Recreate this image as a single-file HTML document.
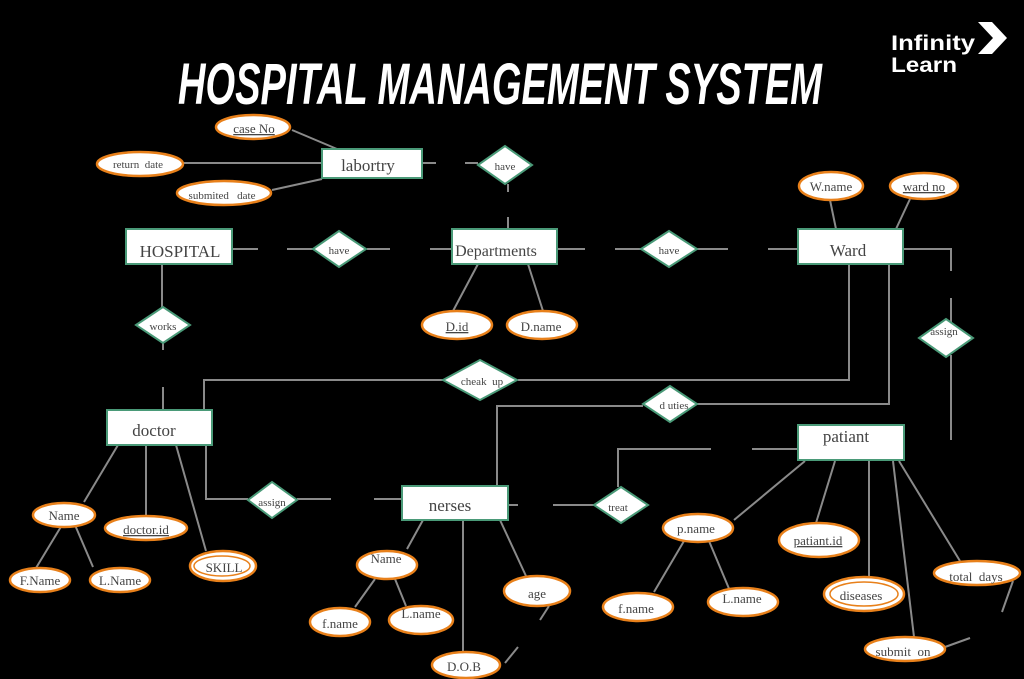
<!DOCTYPE html>
<html><head><meta charset="utf-8"><style>
html,body{margin:0;padding:0;background:#000;}
svg{display:block;}
.l{stroke:#8a8a8a;stroke-width:2;fill:none;}
.r{fill:#fff;stroke:#4a9a78;stroke-width:2;}
.d{fill:#fff;stroke:#4a9a78;stroke-width:2;}
.e{fill:#fff;stroke:#e8801a;stroke-width:2.5;}
text{font-family:"Liberation Serif",serif;fill:#444;text-anchor:middle;}
.a{font-size:13px;}
.b{font-size:17px;}
.s{font-size:11px;}
</style></head><body>
<svg width="1024" height="679" viewBox="0 0 1024 679" xmlns="http://www.w3.org/2000/svg">
<rect width="1024" height="679" fill="#000"/>
<text x="500" y="104" style="font-family:'Liberation Sans',sans-serif;font-weight:bold;font-style:italic;font-size:58px;fill:#fff" textLength="644" lengthAdjust="spacingAndGlyphs">HOSPITAL MANAGEMENT SYSTEM</text>
<text x="891" y="50" style="font-family:'Liberation Sans',sans-serif;font-weight:bold;font-size:21px;fill:#fff;text-anchor:start" textLength="84" lengthAdjust="spacingAndGlyphs">Infinity</text>
<text x="891" y="72" style="font-family:'Liberation Sans',sans-serif;font-weight:bold;font-size:21px;fill:#fff;text-anchor:start" textLength="66" lengthAdjust="spacingAndGlyphs">Learn</text>
<polygon points="978,22 992,22 1007,38 992,54 978,54 993,38" fill="#fff"/>

<g class="l">
<line x1="292" y1="130" x2="337" y2="149"/>
<line x1="182" y1="163" x2="322" y2="163"/>
<line x1="272" y1="190" x2="322" y2="179"/>
<line x1="422" y1="163" x2="436" y2="163"/><line x1="465" y1="163" x2="478" y2="163"/>
<line x1="508" y1="184" x2="508" y2="192"/><line x1="508" y1="217" x2="508" y2="229"/>
<line x1="232" y1="249" x2="258" y2="249"/><line x1="287" y1="249" x2="313" y2="249"/>
<line x1="367" y1="249" x2="390" y2="249"/><line x1="430" y1="249" x2="452" y2="249"/>
<line x1="557" y1="249" x2="585" y2="249"/><line x1="615" y1="249" x2="641" y2="249"/>
<line x1="697" y1="249" x2="728" y2="249"/><line x1="768" y1="249" x2="798" y2="249"/>
<line x1="830" y1="200" x2="836" y2="229"/><line x1="910" y1="199" x2="896" y2="229"/>
<polyline points="903,249 951,249 951,271"/><line x1="951" y1="298" x2="951" y2="322"/>
<line x1="951" y1="355" x2="951" y2="440"/>
<line x1="478" y1="264" x2="453" y2="311"/><line x1="528" y1="264" x2="543" y2="311"/>
<line x1="162" y1="264" x2="162" y2="307"/><line x1="163" y1="343" x2="163" y2="350"/><line x1="163" y1="387" x2="163" y2="410"/>
<polyline points="204,410 204,380 444,380"/><polyline points="518,380 849,380 849,264"/>
<polyline points="497,486 497,406 643,406"/><polyline points="697,404 889,404 889,264"/>
<line x1="118" y1="445" x2="84" y2="502"/>
<line x1="146" y1="445" x2="146" y2="515"/>
<line x1="176" y1="445" x2="206" y2="551"/>
<line x1="62" y1="525" x2="36" y2="568"/><line x1="75" y1="525" x2="93" y2="567"/>
<polyline points="206,445 206,499 248,499"/>
<line x1="297" y1="499" x2="331" y2="499"/><line x1="374" y1="499" x2="402" y2="499"/>
<line x1="508" y1="505" x2="518" y2="505"/><line x1="553" y1="505" x2="594" y2="505"/>
<polyline points="618,487 618,449 711,449"/><line x1="752" y1="449" x2="798" y2="449"/>
<line x1="805" y1="461" x2="734" y2="520"/>
<line x1="684" y1="541" x2="654" y2="592"/><line x1="709" y1="541" x2="730" y2="591"/>
<line x1="835" y1="461" x2="816" y2="523"/>
<line x1="869" y1="461" x2="869" y2="577"/>
<line x1="893" y1="461" x2="914" y2="637"/><line x1="945" y1="647" x2="970" y2="638"/>
<line x1="899" y1="461" x2="960" y2="561"/><line x1="1013" y1="581" x2="1002" y2="612"/>
<line x1="423" y1="520" x2="407" y2="549"/>
<line x1="375" y1="579" x2="355" y2="607"/><line x1="395" y1="579" x2="406" y2="606"/>
<line x1="463" y1="520" x2="463" y2="652"/>
<line x1="500" y1="520" x2="526" y2="576"/>
<line x1="549" y1="606" x2="540" y2="620"/><line x1="505" y1="663" x2="518" y2="647"/>
</g>

<rect class="r" x="322" y="149" width="100" height="29"/><text class="b" x="368" y="171">labortry</text>
<rect class="r" x="126" y="229" width="106" height="35"/><text class="b" x="180" y="257">HOSPITAL</text>
<rect class="r" x="452" y="229" width="105" height="35"/><text class="b" x="496" y="256" style="font-size:16px">Departments</text>
<rect class="r" x="798" y="229" width="105" height="35"/><text class="b" x="848" y="256">Ward</text>
<rect class="r" x="107" y="410" width="105" height="35"/><text class="b" x="154" y="436">doctor</text>
<rect class="r" x="402" y="486" width="106" height="34"/><text class="b" x="450" y="511">nerses</text>
<rect class="r" x="798" y="425" width="106" height="35"/><text class="b" x="846" y="442">patiant</text>

<polygon class="d" points="478,165 505,146 532,165 505,184"/><text class="s" x="505" y="170">have</text>
<polygon class="d" points="313,249 339,231 366,249 339,267"/><text class="s" x="339" y="254">have</text>
<polygon class="d" points="641,249 669,231 697,249 669,267"/><text class="s" x="669" y="254">have</text>
<polygon class="d" points="136,325 163,307 190,325 163,343"/><text class="s" x="163" y="330">works</text>
<polygon class="d" points="919,338 946,319 973,338 946,357"/><text class="s" x="944" y="335">assign</text>
<polygon class="d" points="443,380 480,360 517,380 480,400"/><text class="s" x="482" y="385">cheak &#160;up</text>
<polygon class="d" points="643,404 670,386 697,404 670,422"/><text class="s" x="674" y="409">d uties</text>
<polygon class="d" points="248,500 272,482 297,500 272,518"/><text class="s" x="272" y="506">assign</text>
<polygon class="d" points="594,505 621,487 648,505 621,523"/><text class="s" x="618" y="511">treat</text>

<ellipse class="e" cx="253" cy="127" rx="37" ry="12"/><text class="a" x="254" y="133" text-decoration="underline">case  No</text>
<ellipse class="e" cx="140" cy="164" rx="43" ry="12"/><text class="s" x="138" y="168">return &#160;date</text>
<ellipse class="e" cx="224" cy="193" rx="47" ry="12"/><text class="s" x="222" y="199">submited &#160; date</text>
<ellipse class="e" cx="831" cy="186" rx="32" ry="14"/><text class="a" x="831" y="191">W.name</text>
<ellipse class="e" cx="924" cy="186" rx="34" ry="13"/><text class="a" x="924" y="191" text-decoration="underline">ward  no</text>
<ellipse class="e" cx="457" cy="325" rx="35" ry="14"/><text class="a" x="457" y="331" text-decoration="underline">D.id</text>
<ellipse class="e" cx="542" cy="325" rx="35" ry="14"/><text class="a" x="541" y="331">D.name</text>
<ellipse class="e" cx="64" cy="515" rx="31" ry="12"/><text class="a" x="64" y="520">Name</text>
<ellipse class="e" cx="146" cy="528" rx="41" ry="12"/><text class="a" x="146" y="534" text-decoration="underline">doctor.id</text>
<ellipse class="e" cx="223" cy="566" rx="33" ry="15"/><ellipse cx="222" cy="566" rx="28" ry="10" fill="none" stroke="#e8801a" stroke-width="1.5"/><text class="a" x="224" y="572">SKILL</text>
<ellipse class="e" cx="40" cy="580" rx="30" ry="12"/><text class="a" x="40" y="585">F.Name</text>
<ellipse class="e" cx="120" cy="580" rx="30" ry="12"/><text class="a" x="120" y="585">L.Name</text>
<ellipse class="e" cx="387" cy="565" rx="30" ry="14"/><text class="a" x="386" y="563">Name</text>
<ellipse class="e" cx="340" cy="622" rx="30" ry="14"/><text class="a" x="340" y="628">f.name</text>
<ellipse class="e" cx="421" cy="620" rx="32" ry="14"/><text class="a" x="421" y="618">L.name</text>
<ellipse class="e" cx="537" cy="591" rx="33" ry="15"/><text class="a" x="537" y="598">age</text>
<ellipse class="e" cx="466" cy="665" rx="34" ry="13"/><text class="a" x="464" y="671">D.O.B</text>
<ellipse class="e" cx="698" cy="528" rx="35" ry="14"/><text class="a" x="696" y="533">p.name</text>
<ellipse class="e" cx="638" cy="607" rx="35" ry="14"/><text class="a" x="636" y="613">f.name</text>
<ellipse class="e" cx="743" cy="602" rx="35" ry="14"/><text class="a" x="742" y="603">L.name</text>
<ellipse class="e" cx="819" cy="540" rx="40" ry="17"/><text class="a" x="818" y="545" text-decoration="underline">patiant.id</text>
<ellipse class="e" cx="864" cy="594" rx="40" ry="17"/><ellipse cx="864" cy="594" rx="34" ry="12" fill="none" stroke="#e8801a" stroke-width="1.5"/><text class="a" x="861" y="600">diseases</text>
<ellipse class="e" cx="977" cy="573" rx="43" ry="12"/><text class="a" x="976" y="581">total &#160;days</text>
<ellipse class="e" cx="905" cy="649" rx="40" ry="12"/><text class="a" x="903" y="656">submit &#160;on</text>
</svg>
</body></html>
